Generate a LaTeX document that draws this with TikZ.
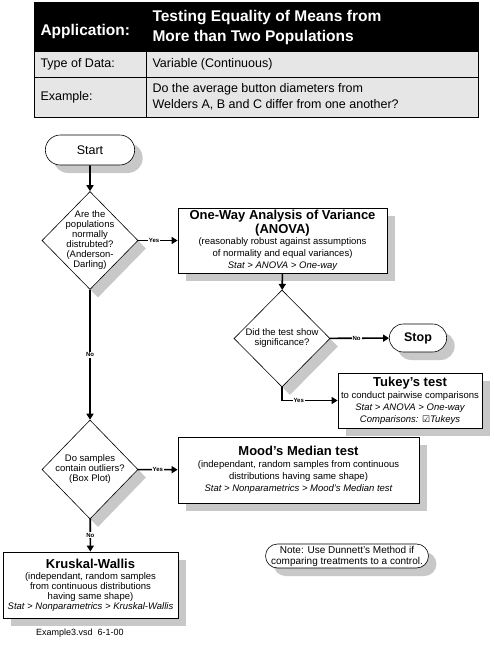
\documentclass[tikz,border=0pt]{standalone}
\usepackage{fontspec}
\setmainfont{Liberation Sans}
\newfontfamily\symbolfont{DejaVu Sans}
\usetikzlibrary{shapes.geometric,shapes.misc,shadows,arrows.meta,positioning}

\definecolor{ShadowGrey}{RGB}{200,200,200}
\definecolor{HeaderGrey}{RGB}{230,230,230}

\newcommand{\headfont}{\fontsize{13}{15}\selectfont\bfseries}
\newcommand{\smallfont}{\fontsize{9.5}{12}\selectfont}

\tikzset{
  shade box/.style={drop shadow={shadow xshift=8pt,shadow yshift=-8pt,fill=ShadowGrey,opacity=1}},
  procbox/.style={draw,fill=white,line width=0.8pt,shade box,align=center,inner sep=0pt,font=\smallfont},
  decision/.style={diamond,draw,fill=white,line width=0.6pt,shade box,inner sep=0pt,minimum width=96pt,minimum height=98pt},
  decisiontext/.style={align=center,font=\fontsize{9.5}{10}\selectfont},
  terminal/.style={rounded rectangle,draw,fill=white,line width=0.6pt,shade box},
  flow/.style={line width=1.6pt,-{Triangle[length=6pt,width=7pt]}},
  answer/.style={fill=white,inner sep=1pt,font=\fontsize{6}{6}\selectfont\bfseries},
  headtext/.style={anchor=west,font=\fontsize{12.5}{16}\selectfont},
}

\begin{document}
\begin{tikzpicture}[x=1pt,y=-1pt]
  \useasboundingbox (0,0) rectangle (493,645);

  % header table
  \fill[HeaderGrey] (34,52) rectangle (478,117);
  \fill[black] (34,2) rectangle (478,52);
  \draw[line width=0.8pt] (34,2) rectangle (478,117);
  \draw[line width=0.8pt] (34,77) -- (478,77);
  \draw[line width=0.8pt] (146,52) -- (146,117);
  \node[anchor=west,text=white,font=\fontsize{15.5}{20}\selectfont\bfseries] (apptag) at (37,31) {Application:};
  \node[anchor=west,text=white,align=left,font=\fontsize{15.5}{20}\selectfont\bfseries] (apptitle) at (149,27) {Testing Equality of Means from\\More than Two Populations};
  \node[headtext] (datatag) at (37,64.5) {Type of Data:};
  \node[headtext] (datatype) at (149,64.5) {Variable (Continuous)};
  \node[headtext] (extag) at (37,97) {Example:};
  \node[headtext,align=left] (extext) at (149,97) {Do the average button diameters from\\Welders A, B and C differ from one another?};

  % flow chart
  \node[terminal,minimum width=96pt,minimum height=30pt,font=\fontsize{12.5}{14}\selectfont] (start) at (90,150) {Start};
  \node[decision,label={[decisiontext]center:Are the\\populations\\normally\\distrubted?\\(Anderson-\\Darling)}] (normal) at (90,240.5) {};
  \node[procbox,minimum width=209pt,minimum height=65pt] (anova) at (282.5,240.5)
    {{\headfont One-Way Analysis of Variance}\\[1pt]{\headfont (ANOVA)}\\[-1pt](reasonably robust against assumptions\\of normality and equal variances)\\{\itshape Stat > ANOVA > One-way}};
  \node[decision,minimum height=97pt,label={[decisiontext]center:Did the test show\\significance?}] (signif) at (282,338.5) {};
  \node[terminal,minimum width=64pt,minimum height=28pt,font=\fontsize{12.5}{14}\selectfont\bfseries] (stop) at (418,338) {Stop};
  \node[procbox,minimum width=144pt,minimum height=55pt] (tukey) at (410,400.5)
    {{\headfont Tukey's test}\\to conduct pairwise comparisons\\{\itshape Stat > ANOVA > One-way}\\{\itshape Comparisons: {\symbolfont\fontsize{9}{10}\selectfont ☑}Tukeys}};
  \node[decision,minimum height=99pt,label={[decisiontext]center:Do samples\\contain outliers?\\(Box Plot)}] (outlier) at (90,469.5) {};
  \node[procbox,minimum width=241pt,minimum height=66pt] (mood) at (298.5,470)
    {{\headfont Mood's Median test}\\(independant, random samples from continuous\\distributions having same shape)\\{\itshape Stat > Nonparametrics > Mood's Median test}};
  \node[procbox,minimum width=175pt,minimum height=66pt] (kruskal) at (90.5,585)
    {{\headfont Kruskal-Wallis}\\[-1pt](independant, random samples\\[-2pt]from continuous distributions\\[-2pt]having same shape)\\[-2pt]{\itshape Stat > Nonparametrics > Kruskal-Wallis}};
  \node[terminal,minimum width=160pt,minimum height=24pt,shadow xshift=6pt,align=center,inner sep=0pt,font=\fontsize{10}{11}\selectfont] (note) at (347,556)
    {Note: Use Dunnett's Method if\\comparing treatments to a control.};
  \node[font=\fontsize{9}{10}\selectfont] (footer) at (80,633) {Example3.vsd\ \ 6-1-00};

  % connectors
  \draw[flow] (start) -- (normal);
  \draw[flow] (normal) -- node[answer,pos=0.4] {Yes} (anova);
  \draw[flow] (anova) -- (signif);
  \draw[flow] (signif) -- node[answer,pos=0.45] {No} (stop);
  \draw[flow] (signif.south) |- node[answer,pos=0.65] {Yes} (tukey.west);
  \draw[flow] (normal) -- node[answer] {No} (outlier);
  \draw[flow] (outlier) -- node[answer] {Yes} (mood);
  \draw[flow] (outlier) -- node[answer,pos=0.5] {No} (kruskal);
\end{tikzpicture}
\end{document}
